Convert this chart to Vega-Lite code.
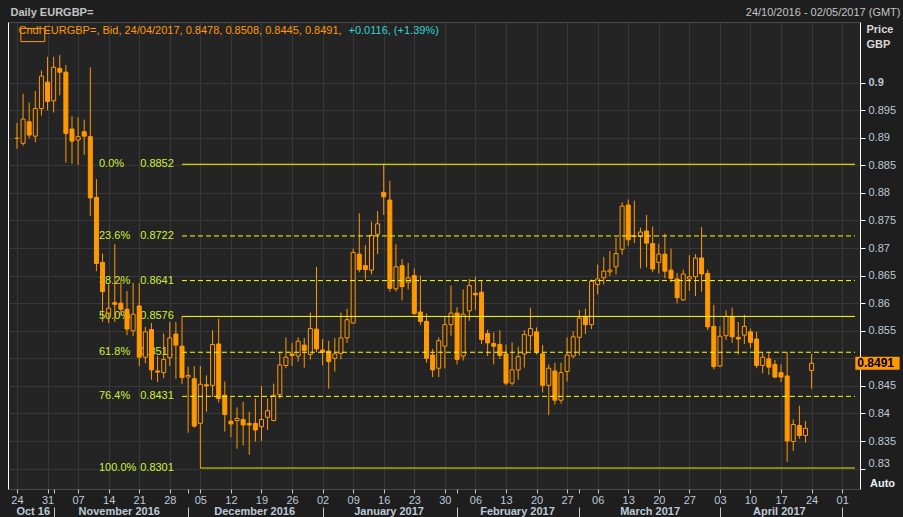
{
"$schema": "https://vega.github.io/schema/vega-lite/v6.json",
"width": 852, "height": 467,
"autosize": "none",
"padding": {"left": 8, "top": 22, "right": 43, "bottom": 28},
"background": "#1e1e1e",
"config": {
  "view": {"fill": "#242424", "stroke": "#4a4a4a"},
  "font": "Liberation Sans",
  "axis": {"labelFont": "Liberation Sans", "titleFont": "Liberation Sans", "labelFontSize": 11, "labelColor": "#bdc9d8", "labelOverlap": false, "labelFlush": false, "labelBound": false}
},
"datasets": {
"candles": [
{"d":"2016-10-24","o":0.8899,"h":0.8927,"l":0.8880,"c":0.8899},
{"d":"2016-10-25","o":0.8890,"h":0.8980,"l":0.8886,"c":0.8934},
{"d":"2016-10-26","o":0.8929,"h":0.8964,"l":0.8899,"c":0.8905},
{"d":"2016-10-27","o":0.8903,"h":0.8985,"l":0.8892,"c":0.8953},
{"d":"2016-10-28","o":0.8953,"h":0.9022,"l":0.8940,"c":0.9012},
{"d":"2016-10-31","o":0.9001,"h":0.9047,"l":0.8950,"c":0.8966},
{"d":"2016-11-01","o":0.8967,"h":0.9047,"l":0.8946,"c":0.9028},
{"d":"2016-11-02","o":0.9026,"h":0.9050,"l":0.8977,"c":0.9019},
{"d":"2016-11-03","o":0.9019,"h":0.9032,"l":0.8855,"c":0.8908},
{"d":"2016-11-04","o":0.8916,"h":0.8939,"l":0.8853,"c":0.8894},
{"d":"2016-11-07","o":0.8896,"h":0.8937,"l":0.8851,"c":0.8902},
{"d":"2016-11-08","o":0.8911,"h":0.8933,"l":0.8869,"c":0.8903},
{"d":"2016-11-09","o":0.8902,"h":0.9028,"l":0.8758,"c":0.8791},
{"d":"2016-11-10","o":0.8792,"h":0.8825,"l":0.8658,"c":0.8672},
{"d":"2016-11-11","o":0.8674,"h":0.8690,"l":0.8566,"c":0.8621},
{"d":"2016-11-14","o":0.8582,"h":0.8634,"l":0.8564,"c":0.8591},
{"d":"2016-11-15","o":0.8601,"h":0.8707,"l":0.8566,"c":0.8598},
{"d":"2016-11-16","o":0.8600,"h":0.8643,"l":0.8578,"c":0.8589},
{"d":"2016-11-17","o":0.8589,"h":0.8622,"l":0.8542,"c":0.8553},
{"d":"2016-11-18","o":0.8550,"h":0.8637,"l":0.8540,"c":0.8580},
{"d":"2016-11-21","o":0.8595,"h":0.8637,"l":0.8486,"c":0.8502},
{"d":"2016-11-22","o":0.8502,"h":0.8557,"l":0.8491,"c":0.8548},
{"d":"2016-11-23","o":0.8552,"h":0.8564,"l":0.8461,"c":0.8479},
{"d":"2016-11-24","o":0.8477,"h":0.8504,"l":0.8457,"c":0.8475},
{"d":"2016-11-25","o":0.8474,"h":0.8545,"l":0.8464,"c":0.8498},
{"d":"2016-11-28","o":0.8501,"h":0.8566,"l":0.8486,"c":0.8537},
{"d":"2016-11-29","o":0.8544,"h":0.8566,"l":0.8463,"c":0.8524},
{"d":"2016-11-30","o":0.8522,"h":0.8576,"l":0.8453,"c":0.8465},
{"d":"2016-12-01","o":0.8466,"h":0.8485,"l":0.8365,"c":0.8469},
{"d":"2016-12-02","o":0.8463,"h":0.8486,"l":0.8374,"c":0.8377},
{"d":"2016-12-05","o":0.8382,"h":0.8486,"l":0.8301,"c":0.8453},
{"d":"2016-12-06","o":0.8452,"h":0.8469,"l":0.8403,"c":0.8450},
{"d":"2016-12-07","o":0.8451,"h":0.8551,"l":0.8430,"c":0.8525},
{"d":"2016-12-08","o":0.8526,"h":0.8572,"l":0.8420,"c":0.8427},
{"d":"2016-12-09","o":0.8433,"h":0.8458,"l":0.8367,"c":0.8398},
{"d":"2016-12-12","o":0.8386,"h":0.8429,"l":0.8357,"c":0.8381},
{"d":"2016-12-13","o":0.8387,"h":0.8411,"l":0.8336,"c":0.8391},
{"d":"2016-12-14","o":0.8389,"h":0.8421,"l":0.8342,"c":0.8379},
{"d":"2016-12-15","o":0.8382,"h":0.8403,"l":0.8325,"c":0.8379},
{"d":"2016-12-16","o":0.8382,"h":0.8427,"l":0.8349,"c":0.8370},
{"d":"2016-12-19","o":0.8376,"h":0.8450,"l":0.8350,"c":0.8389},
{"d":"2016-12-20","o":0.8393,"h":0.8427,"l":0.8370,"c":0.8405},
{"d":"2016-12-21","o":0.8387,"h":0.8454,"l":0.8386,"c":0.8433},
{"d":"2016-12-22","o":0.8434,"h":0.8511,"l":0.8427,"c":0.8488},
{"d":"2016-12-23","o":0.8487,"h":0.8538,"l":0.8482,"c":0.8502},
{"d":"2016-12-26","o":0.8508,"h":0.8528,"l":0.8486,"c":0.8505},
{"d":"2016-12-27","o":0.8504,"h":0.8538,"l":0.8494,"c":0.8531},
{"d":"2016-12-28","o":0.8524,"h":0.8537,"l":0.8483,"c":0.8514},
{"d":"2016-12-29","o":0.8507,"h":0.8583,"l":0.8498,"c":0.8554},
{"d":"2016-12-30","o":0.8553,"h":0.8666,"l":0.8511,"c":0.8517},
{"d":"2017-01-02","o":0.8515,"h":0.8535,"l":0.8487,"c":0.8511},
{"d":"2017-01-03","o":0.8513,"h":0.8532,"l":0.8445,"c":0.8494},
{"d":"2017-01-04","o":0.8500,"h":0.8537,"l":0.8476,"c":0.8508},
{"d":"2017-01-05","o":0.8509,"h":0.8583,"l":0.8498,"c":0.8537},
{"d":"2017-01-06","o":0.8537,"h":0.8590,"l":0.8528,"c":0.8570},
{"d":"2017-01-09","o":0.8564,"h":0.8699,"l":0.8563,"c":0.8692},
{"d":"2017-01-10","o":0.8689,"h":0.8763,"l":0.8656,"c":0.8661},
{"d":"2017-01-11","o":0.8668,"h":0.8705,"l":0.8643,"c":0.8661},
{"d":"2017-01-12","o":0.8660,"h":0.8748,"l":0.8652,"c":0.8723},
{"d":"2017-01-13","o":0.8725,"h":0.8767,"l":0.8689,"c":0.8744},
{"d":"2017-01-16","o":0.8801,"h":0.8852,"l":0.8760,"c":0.8793},
{"d":"2017-01-17","o":0.8787,"h":0.8822,"l":0.8621,"c":0.8627},
{"d":"2017-01-18","o":0.8626,"h":0.8707,"l":0.8621,"c":0.8666},
{"d":"2017-01-19","o":0.8668,"h":0.8680,"l":0.8605,"c":0.8630},
{"d":"2017-01-20","o":0.8638,"h":0.8673,"l":0.8625,"c":0.8646},
{"d":"2017-01-23","o":0.8650,"h":0.8663,"l":0.8579,"c":0.8581},
{"d":"2017-01-24","o":0.8584,"h":0.8650,"l":0.8560,"c":0.8567},
{"d":"2017-01-25","o":0.8567,"h":0.8581,"l":0.8492,"c":0.8500},
{"d":"2017-01-26","o":0.8506,"h":0.8517,"l":0.8466,"c":0.8479},
{"d":"2017-01-27","o":0.8482,"h":0.8538,"l":0.8466,"c":0.8532},
{"d":"2017-01-30","o":0.8522,"h":0.8576,"l":0.8482,"c":0.8561},
{"d":"2017-01-31","o":0.8561,"h":0.8632,"l":0.8541,"c":0.8582},
{"d":"2017-02-01","o":0.8582,"h":0.8593,"l":0.8489,"c":0.8498},
{"d":"2017-02-02","o":0.8504,"h":0.8625,"l":0.8496,"c":0.8580},
{"d":"2017-02-03","o":0.8586,"h":0.8644,"l":0.8568,"c":0.8632},
{"d":"2017-02-06","o":0.8618,"h":0.8648,"l":0.8588,"c":0.8615},
{"d":"2017-02-07","o":0.8620,"h":0.8640,"l":0.8526,"c":0.8534},
{"d":"2017-02-08","o":0.8545,"h":0.8552,"l":0.8504,"c":0.8528},
{"d":"2017-02-09","o":0.8527,"h":0.8547,"l":0.8489,"c":0.8522},
{"d":"2017-02-10","o":0.8525,"h":0.8551,"l":0.8499,"c":0.8505},
{"d":"2017-02-13","o":0.8508,"h":0.8525,"l":0.8451,"c":0.8455},
{"d":"2017-02-14","o":0.8455,"h":0.8529,"l":0.8451,"c":0.8479},
{"d":"2017-02-15","o":0.8479,"h":0.8521,"l":0.8461,"c":0.8503},
{"d":"2017-02-16","o":0.8508,"h":0.8551,"l":0.8483,"c":0.8543},
{"d":"2017-02-17","o":0.8541,"h":0.8592,"l":0.8514,"c":0.8554},
{"d":"2017-02-20","o":0.8548,"h":0.8556,"l":0.8507,"c":0.8512},
{"d":"2017-02-21","o":0.8508,"h":0.8524,"l":0.8438,"c":0.8451},
{"d":"2017-02-22","o":0.8451,"h":0.8489,"l":0.8397,"c":0.8482},
{"d":"2017-02-23","o":0.8477,"h":0.8492,"l":0.8416,"c":0.8424},
{"d":"2017-02-24","o":0.8424,"h":0.8492,"l":0.8418,"c":0.8474},
{"d":"2017-02-27","o":0.8476,"h":0.8538,"l":0.8458,"c":0.8506},
{"d":"2017-02-28","o":0.8504,"h":0.8549,"l":0.8500,"c":0.8539},
{"d":"2017-03-01","o":0.8538,"h":0.8588,"l":0.8505,"c":0.8573},
{"d":"2017-03-02","o":0.8576,"h":0.8590,"l":0.8544,"c":0.8561},
{"d":"2017-03-03","o":0.8561,"h":0.8643,"l":0.8553,"c":0.8640},
{"d":"2017-03-06","o":0.8634,"h":0.8670,"l":0.8616,"c":0.8644},
{"d":"2017-03-07","o":0.8646,"h":0.8684,"l":0.8634,"c":0.8658},
{"d":"2017-03-08","o":0.8657,"h":0.8695,"l":0.8649,"c":0.8660},
{"d":"2017-03-09","o":0.8666,"h":0.8719,"l":0.8652,"c":0.8690},
{"d":"2017-03-10","o":0.8698,"h":0.8783,"l":0.8688,"c":0.8776},
{"d":"2017-03-13","o":0.8778,"h":0.8788,"l":0.8704,"c":0.8715},
{"d":"2017-03-14","o":0.8722,"h":0.8786,"l":0.8709,"c":0.8721},
{"d":"2017-03-15","o":0.8721,"h":0.8737,"l":0.8663,"c":0.8729},
{"d":"2017-03-16","o":0.8731,"h":0.8760,"l":0.8665,"c":0.8709},
{"d":"2017-03-17","o":0.8708,"h":0.8739,"l":0.8656,"c":0.8662},
{"d":"2017-03-20","o":0.8674,"h":0.8708,"l":0.8654,"c":0.8689},
{"d":"2017-03-21","o":0.8689,"h":0.8726,"l":0.8645,"c":0.8658},
{"d":"2017-03-22","o":0.8660,"h":0.8699,"l":0.8638,"c":0.8645},
{"d":"2017-03-23","o":0.8644,"h":0.8655,"l":0.8600,"c":0.8610},
{"d":"2017-03-24","o":0.8606,"h":0.8661,"l":0.8604,"c":0.8653},
{"d":"2017-03-27","o":0.8644,"h":0.8687,"l":0.8622,"c":0.8648},
{"d":"2017-03-28","o":0.8648,"h":0.8689,"l":0.8613,"c":0.8682},
{"d":"2017-03-29","o":0.8682,"h":0.8738,"l":0.8621,"c":0.8653},
{"d":"2017-03-30","o":0.8654,"h":0.8661,"l":0.8551,"c":0.8557},
{"d":"2017-03-31","o":0.8558,"h":0.8597,"l":0.8480,"c":0.8485},
{"d":"2017-04-03","o":0.8486,"h":0.8558,"l":0.8484,"c":0.8540},
{"d":"2017-04-04","o":0.8541,"h":0.8587,"l":0.8533,"c":0.8576},
{"d":"2017-04-05","o":0.8576,"h":0.8592,"l":0.8528,"c":0.8539},
{"d":"2017-04-06","o":0.8538,"h":0.8566,"l":0.8507,"c":0.8535},
{"d":"2017-04-07","o":0.8542,"h":0.8579,"l":0.8526,"c":0.8558},
{"d":"2017-04-10","o":0.8548,"h":0.8554,"l":0.8519,"c":0.8529},
{"d":"2017-04-11","o":0.8535,"h":0.8548,"l":0.8482,"c":0.8487},
{"d":"2017-04-12","o":0.8487,"h":0.8511,"l":0.8473,"c":0.8502},
{"d":"2017-04-13","o":0.8499,"h":0.8511,"l":0.8470,"c":0.8484},
{"d":"2017-04-14","o":0.8489,"h":0.8497,"l":0.8464,"c":0.8466},
{"d":"2017-04-17","o":0.8474,"h":0.8489,"l":0.8457,"c":0.8466},
{"d":"2017-04-18","o":0.8468,"h":0.8511,"l":0.8312,"c":0.8350},
{"d":"2017-04-19","o":0.8349,"h":0.8389,"l":0.8332,"c":0.8380},
{"d":"2017-04-20","o":0.8378,"h":0.8414,"l":0.8354,"c":0.8360},
{"d":"2017-04-21","o":0.8360,"h":0.8386,"l":0.8347,"c":0.8373},
{"d":"2017-04-24","o":0.8478,"h":0.8508,"l":0.8445,"c":0.8491}
],
"fib": [
{"level":"0.0%","price":0.8852,"start":"2016-11-30"},
{"level":"23.6%","price":0.8722,"start":"2016-11-30"},
{"level":"38.2%","price":0.8641,"start":"2016-11-30"},
{"level":"50.0%","price":0.8576,"start":"2016-11-30"},
{"level":"61.8%","price":0.8511,"start":"2016-11-30"},
{"level":"76.4%","price":0.8431,"start":"2016-11-30"},
{"level":"100.0%","price":0.8301,"start":"2016-12-05"}
]
},
"resolve": {"axis": {"x": "independent", "y": "independent"}},
"layer": [
{
  "data": {"name": "fib"},
  "mark": {"type": "text", "align": "left", "baseline": "middle", "fontSize": 11, "color": "#cfee3a", "font": "Liberation Sans"},
  "encoding": {
    "x": {"datum": 13.42, "type": "quantitative", "scale": {"domain": [-0.65, 137.1], "nice": false, "zero": false},
          "axis": {"orient": "top", "labels": false, "ticks": false, "domain": false, "grid": false, "title": "24/10/2016 - 02/05/2017 (GMT)", "titleX": 892, "titleY": -10, "titleAlign": "right", "titleBaseline": "middle", "titleFontWeight": "normal", "titleFontSize": 11, "titleColor": "#c4c4c4"}},
    "y": {"field": "price", "type": "quantitative", "scale": {"domain": [0.8272, 0.9101], "nice": false, "zero": false},
          "axis": {"orient": "left", "labels": false, "ticks": false, "domain": false, "grid": false, "title": "+0.0116, (+1.39%)", "titleAngle": 0, "titleX": 340, "titleY": 8, "titleAlign": "left", "titleBaseline": "middle", "titleFontWeight": "normal", "titleFontSize": 11, "titleColor": "#2ed3d3"}},
    "text": {"field": "level"}
  }
},
{
  "data": {"name": "fib"},
  "mark": {"type": "text", "align": "left", "baseline": "middle", "fontSize": 11, "color": "#cfee3a", "font": "Liberation Sans"},
  "encoding": {
    "x": {"datum": 20.16, "type": "quantitative", "scale": {"domain": [-0.65, 137.1], "nice": false, "zero": false},
          "axis": {"orient": "top", "labels": false, "ticks": false, "domain": false, "grid": false, "title": "Daily EURGBP=", "titleX": 2, "titleY": -10, "titleAlign": "left", "titleBaseline": "middle", "titleFontWeight": "bold", "titleFontSize": 11, "titleColor": "#c4c4c4"}},
    "y": {"field": "price", "type": "quantitative", "scale": {"domain": [0.8272, 0.9101], "nice": false, "zero": false},
          "axis": {"orient": "left", "labels": false, "ticks": false, "domain": false, "grid": false, "title": "Cndl", "titleAngle": 0, "titleX": 10, "titleY": 8, "titleAlign": "left", "titleBaseline": "middle", "titleFontWeight": "normal", "titleFontSize": 11, "titleColor": "#ff9900"}},
    "text": {"field": "price", "type": "quantitative", "format": ".4f"}
  }
},
{
  "data": {"name": "candles"},
  "transform": [
    {"calculate": "round((toDate(datum.d) - utc(2016, 9, 24)) / 864e5)", "as": "t"},
    {"calculate": "floor(datum.t / 7) * 5 + datum.t % 7", "as": "i"}
  ],
  "mark": {"type": "rule", "color": "#ff9900", "strokeWidth": 1},
  "encoding": {
    "x": {"field": "i", "type": "quantitative", "scale": {"domain": [-0.65, 137.1], "nice": false, "zero": false},
          "axis": {"orient": "bottom", "title": null, "values": [0,5,6,10,15,20,25,28,30,35,40,45,50,55,60,65,70,72,75,80,85,90,92,95,100,105,110,115,120,125,130,135],
                   "labelExpr": "datum.value % 5 == 0 ? timeFormat(datetime(2016, 9, 24 + datum.value / 5 * 7), '%d') : ''",
                   "grid": true, "gridColor": "#383838", "gridOpacity": {"condition": {"test": "datum.value % 5 != 0", "value": 0}, "value": 1},
                   "domain": false, "tickColor": "#c8c8c8", "tickSize": 4, "labelPadding": 1, "labelFontSize": 11}},
    "y": {"field": "l", "type": "quantitative", "scale": {"domain": [0.8272, 0.9101], "nice": false, "zero": false},
          "axis": {"orient": "right", "values": [0.83,0.835,0.84,0.845,0.85,0.855,0.86,0.865,0.87,0.875,0.88,0.885,0.89,0.895,0.9], "format": ".3~f",
                   "grid": true, "gridColor": "#383838", "domainColor": "#ffffff", "tickColor": "#ffffff", "tickSize": 5, "labelPadding": 3,
                   "labelFontWeight": {"condition": {"test": "datum.value > 0.8995", "value": "bold"}, "value": "normal"},
                   "labelOffset": {"condition": {"test": "datum.value < 0.8305", "value": -5}, "value": 0},
                   "labelOpacity": {"condition": {"test": "abs(datum.value - 0.85) < 0.0001", "value": 0}, "value": 1},
                   "title": ["Price", "GBP"], "titleAngle": 0, "titleX": 6, "titleY": 1, "titleAlign": "left", "titleBaseline": "top",
                   "titleFontWeight": "bold", "titleFontSize": 11, "titleColor": "#d8d8d8", "titleLineHeight": 15}},
    "y2": {"field": "h"}
  }
},
{
  "data": {"name": "candles"},
  "transform": [
    {"calculate": "round((toDate(datum.d) - utc(2016, 9, 24)) / 864e5)", "as": "t"},
    {"calculate": "floor(datum.t / 7) * 5 + datum.t % 7", "as": "i"}
  ],
  "mark": {"type": "bar", "orient": "vertical", "size": 4, "stroke": "#ff9900", "strokeWidth": 1},
  "encoding": {
    "x": {"field": "i", "type": "quantitative", "scale": {"domain": [-0.65, 137.1], "nice": false, "zero": false},
          "axis": {"orient": "bottom", "title": null, "values": [2.58, 16.65, 38.8, 60.8, 81.8, 103.5, 124.65],
                   "labelExpr": "datum.value < 5 ? 'Oct 16' : datum.value < 25 ? 'November 2016' : datum.value < 45 ? 'December 2016' : datum.value < 70 ? 'January 2017' : datum.value < 90 ? 'February 2017' : datum.value < 110 ? 'March 2017' : 'April 2017'",
                   "grid": false, "domain": false, "ticks": false, "tickSize": 0, "labelPadding": 16, "labelFontWeight": "bold", "labelFontSize": 11}},
    "y": {"field": "o", "type": "quantitative", "scale": {"domain": [0.8272, 0.9101], "nice": false, "zero": false},
          "axis": {"orient": "left", "labels": false, "ticks": false, "grid": false, "domainColor": "#ffffff", "title": null}},
    "y2": {"field": "c"},
    "fill": {"condition": {"test": "datum.c > datum.o", "value": "#242424"}, "value": "#ff9900"}
  }
},
{
  "data": {"name": "fib"},
  "transform": [
    {"calculate": "round((toDate(datum.start) - utc(2016, 9, 24)) / 864e5)", "as": "t"},
    {"calculate": "floor(datum.t / 7) * 5 + datum.t % 7", "as": "i"}
  ],
  "mark": {"type": "rule", "color": "#ffff00", "strokeWidth": 1},
  "encoding": {
    "x": {"field": "i", "type": "quantitative", "scale": {"domain": [-0.65, 137.1], "nice": false, "zero": false},
          "axis": {"orient": "bottom", "title": null, "values": [6, 28, 50, 72, 92, 115, 135], "labels": false, "domain": false, "grid": false, "tickSize": 12, "offset": 18, "tickColor": "#c8c8c8"}},
    "x2": {"datum": 137.1},
    "y": {"field": "price", "type": "quantitative", "scale": {"domain": [0.8272, 0.9101], "nice": false, "zero": false},
          "axis": {"orient": "left", "labels": false, "ticks": false, "domain": false, "grid": false, "title": "EURGBP=, Bid, 24/04/2017, 0.8478, 0.8508, 0.8445, 0.8491,", "titleAngle": 0, "titleX": 35, "titleY": 8, "titleAlign": "left", "titleBaseline": "middle", "titleFontWeight": "normal", "titleFontSize": 11, "titleColor": "#ff9900"}},
    "strokeDash": {"condition": {"test": "indexof(['0.0%', '50.0%', '100.0%'], datum.level) >= 0", "value": [1, 0]}, "value": [5, 3]}
  }
},
{
  "data": {"values": [{"label": "Cndl"}]},
  "mark": {"type": "rect", "fill": null, "stroke": "#ff9900", "strokeWidth": 1},
  "encoding": {
    "x": {"datum": 0.64, "type": "quantitative", "scale": {"domain": [-0.65, 137.1], "nice": false, "zero": false}, "axis": null},
    "x2": {"datum": 4.55},
    "y": {"datum": 0.90985, "type": "quantitative", "scale": {"domain": [0.8272, 0.9101], "nice": false, "zero": false}, "axis": null},
    "y2": {"datum": 0.90745}
  }
},
{
  "data": {"name": "candles"},
  "transform": [{"filter": "datum.d == '2017-04-24'"}],
  "mark": {"type": "bar", "orient": "horizontal", "size": 13, "color": "#ff9900"},
  "encoding": {
    "x": {"datum": 137.15, "type": "quantitative", "scale": {"domain": [-0.65, 137.1], "nice": false, "zero": false},
          "axis": {"orient": "bottom", "labels": false, "ticks": false, "domain": false, "grid": false, "title": "Auto", "titleX": 874, "titleY": -6, "titleAlign": "center", "titleBaseline": "middle", "titleFontWeight": "bold", "titleFontSize": 11, "titleColor": "#e8eef5"}},
    "x2": {"datum": 144.4},
    "y": {"field": "c", "type": "quantitative", "scale": {"domain": [0.8272, 0.9101], "nice": false, "zero": false}, "axis": null}
  }
},
{
  "data": {"name": "candles"},
  "transform": [{"filter": "datum.d == '2017-04-24'"}],
  "mark": {"type": "text", "align": "left", "baseline": "middle", "dx": 2, "fontSize": 12, "fontWeight": "bold", "color": "#000000", "font": "Liberation Sans"},
  "encoding": {
    "x": {"datum": 137.15, "type": "quantitative", "scale": {"domain": [-0.65, 137.1], "nice": false, "zero": false}, "axis": null},
    "y": {"field": "c", "type": "quantitative", "scale": {"domain": [0.8272, 0.9101], "nice": false, "zero": false}, "axis": null},
    "text": {"field": "c", "type": "quantitative", "format": ".4f"}
  }
}
]
}
